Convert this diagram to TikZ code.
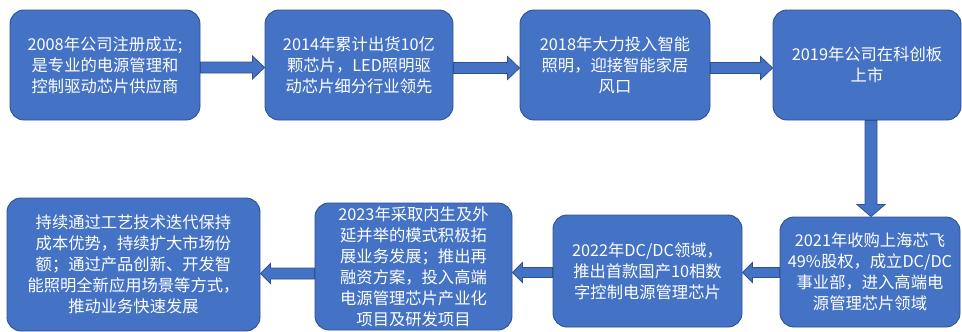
\documentclass[tikz,border=0pt]{standalone}
\usepackage{fontspec}
\newfontfamily\cjk{Noto Sans CJK SC}
\usetikzlibrary{calc}
\definecolor{boxblue}{HTML}{4472C4}
\definecolor{boxline}{HTML}{2F528F}
\tikzset{
  stagebox/.style={draw=boxline, fill=boxblue, line width=0.9pt, rounded corners=14pt,
    text=white, align=center, inner sep=0pt,
    font=\cjk\fontsize{16.3}{21}\selectfont},
  blockarrow/.style={draw=boxline, fill=boxblue, line width=0.8pt, line join=miter}
}
% right-pointing block arrow from node #1 to node #2 at height #3
\newcommand\rblock[6]{%
  \coordinate (ra) at (#1.east |- 0,#3);
  \coordinate (rb) at (#2.west |- 0,#3);
  \draw[blockarrow] ($(ra)+(0,-#4)$) -- ($(rb)+(-#6,-#4)$) -- ($(rb)+(-#6,-#5)$) -- (rb)
    -- ($(rb)+(-#6,#5)$) -- ($(rb)+(-#6,#4)$) -- ($(ra)+(0,#4)$) -- cycle;}
% left-pointing block arrow from node #1 to node #2 at height #3
\newcommand\lblock[6]{%
  \coordinate (la) at (#1.west |- 0,#3);
  \coordinate (lb) at (#2.east |- 0,#3);
  \draw[blockarrow] ($(la)+(0,-#4)$) -- ($(lb)+(#6,-#4)$) -- ($(lb)+(#6,-#5)$) -- (lb)
    -- ($(lb)+(#6,#5)$) -- ($(lb)+(#6,#4)$) -- ($(la)+(0,#4)$) -- cycle;}
\begin{document}
\begin{tikzpicture}[x=1pt,y=-1pt]
\useasboundingbox (0,0) rectangle (962,332);
\node[stagebox, minimum width=190pt, minimum height=110pt] (b1) at (105,65)
  {2008年公司注册成立;\\是专业的电源管理和\\控制驱动芯片供应商};
\node[stagebox, minimum width=188pt, minimum height=110pt] (b2) at (359,65)
  {2014年累计出货10亿\\颗芯片，LED照明驱\\动芯片细分行业领先};
\node[stagebox, minimum width=190pt, minimum height=110pt] (b3) at (615,65)
  {2018年大力投入智能\\照明，迎接智能家居\\风口};
\node[stagebox, minimum width=188pt, minimum height=110pt] (b4) at (867,65)
  {2019年公司在科创板\\上市};
\node[stagebox, minimum width=180pt, minimum height=110pt] (b5) at (870,272)
  {2021年收购上海芯飞\\49\%股权，成立DC/DC\\事业部，进入高端电\\源管理芯片领域};
\node[stagebox, minimum width=189pt, minimum height=112pt] (b6) at (647.5,271)
  {2022年DC/DC领域，\\推出首款国产10相数\\字控制电源管理芯片};
\node[stagebox, minimum width=197pt, minimum height=127pt] (b7) at (413.5,266.5)
  {2023年采取内生及外\\延并举的模式积极拓\\展业务发展；推出再\\融资方案，投入高端\\电源管理芯片产业化\\项目及研发项目};
\node[stagebox, minimum width=253pt, minimum height=133pt] (b8) at (133.5,264.5)
  {持续通过工艺技术迭代保持\\成本优势，持续扩大市场份\\额；通过产品创新、开发智\\能照明全新应用场景等方式，\\推动业务快速发展};
\rblock{b1}{b2}{67.5}{5.5}{11.5}{12}
\rblock{b2}{b3}{68}{5.5}{11.5}{12}
\rblock{b3}{b4}{68}{5.5}{11.5}{12}
% down arrow
\coordinate (da) at (b4.south -| 871,0);
\coordinate (db) at (b5.north -| 871,0);
\draw[blockarrow] ($(da)+(-6,0)$) -- ($(db)+(-6,-12)$) -- ($(db)+(-14,-12)$) -- (db)
  -- ($(db)+(14,-12)$) -- ($(db)+(6,-12)$) -- ($(da)+(6,0)$) -- cycle;
\lblock{b5}{b6}{272.5}{5}{10}{10}
\lblock{b6}{b7}{272.5}{5}{10}{10}
\lblock{b7}{b8}{273.5}{5.5}{10}{10}
\end{tikzpicture}
\end{document}
